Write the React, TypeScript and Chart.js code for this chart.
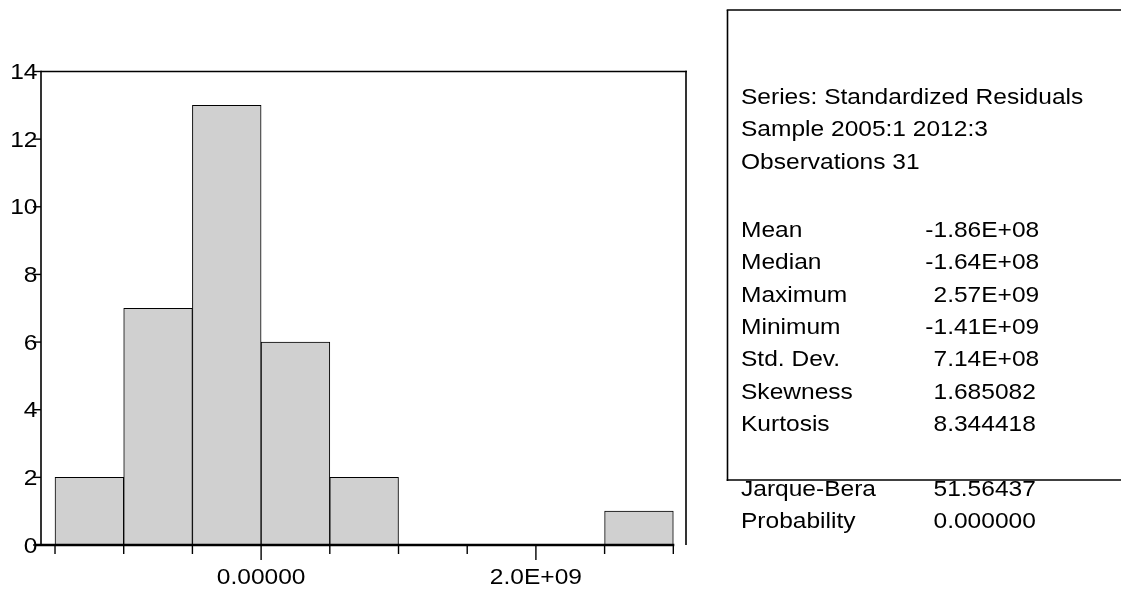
import React, { useEffect, useRef } from "react";
import { Chart, registerables } from "chart.js";

Chart.register(...registerables);

// ---- data ----
const binCenters = [-1.25e9, -0.75e9, -0.25e9, 0.25e9, 0.75e9, 1.25e9, 1.75e9, 2.25e9, 2.75e9];
const binCounts = [2, 7, 13, 6, 2, 0, 0, 0, 1];
const xTickValues = [-1.5e9, -1.0e9, -0.5e9, 0, 0.5e9, 1.0e9, 1.5e9, 2.0e9, 2.5e9, 3.0e9];
const xLabelValues = [0, 2.0e9];
const xLabelTexts = ["0.00000", "2.0E+09"];
const yTickValues = [0, 2, 4, 6, 8, 10, 12, 14];
const statsHeader = ["Series: Standardized Residuals", "Sample 2005:1 2012:3", "Observations 31"];
const statNames = ["Mean", "Median", "Maximum", "Minimum", "Std. Dev.", "Skewness", "Kurtosis"];
const statValues = ["-1.86E+08", "-1.64E+08", "2.57E+09", "-1.41E+09", "7.14E+08", "1.685082", "8.344418"];
const testNames = ["Jarque-Bera", "Probability"];
const testValues = ["51.56437", "0.000000"];

const FONT = '22px "Liberation Sans", Arial, sans-serif';
const SX = 1.115;

function drawText(ctx: CanvasRenderingContext2D, s: string, x: number, y: number, align: CanvasTextAlign) {
  ctx.save();
  ctx.translate(x, y);
  ctx.scale(SX, 1);
  ctx.textAlign = align;
  ctx.textBaseline = "alphabetic";
  ctx.fillText(s, 0, 0);
  ctx.restore();
}

function line(ctx: CanvasRenderingContext2D, x1: number, y1: number, x2: number, y2: number, w: number) {
  ctx.beginPath();
  ctx.lineWidth = w;
  ctx.moveTo(x1, y1);
  ctx.lineTo(x2, y2);
  ctx.stroke();
}

const decorPlugin = {
  id: "decor",
  afterDraw(chart: any) {
    const ctx: CanvasRenderingContext2D = chart.ctx;
    const xs = chart.scales.x;
    const ys = chart.scales.y;
    const area = chart.chartArea;
    ctx.save();
    ctx.strokeStyle = "#000";
    ctx.fillStyle = "#000";
    ctx.font = FONT;
    ctx.lineCap = "butt";

    const y0 = ys.getPixelForValue(0);
    const yTop = ys.getPixelForValue(14);

    // frame
    line(ctx, area.left, yTop, area.right + 1, yTop, 1.6);
    line(ctx, area.left, yTop - 0.8, area.left, y0, 1.6);
    line(ctx, area.right, yTop - 0.8, area.right, y0, 1.6);

    // y ticks + labels
    yTickValues.forEach((v) => {
      const py = ys.getPixelForValue(v);
      line(ctx, area.left - 8, py, area.left, py, 1.4);
      drawText(ctx, String(v), area.left - 3.5, py + 7.5, "right");
    });

    // x axis line
    const lastX = xs.getPixelForValue(xTickValues[xTickValues.length - 1]);
    line(ctx, area.left - 5, y0, lastX + 1, y0, 2.6);
    // x ticks
    xTickValues.forEach((v) => {
      const px = xs.getPixelForValue(v);
      const major = xLabelValues.indexOf(v) >= 0;
      line(ctx, px, y0, px, y0 + (major ? 15 : 9), 1.4);
    });
    xLabelValues.forEach((v, i) => {
      const px = xs.getPixelForValue(v);
      drawText(ctx, xLabelTexts[i], px, 584, "center");
    });

    // stats box
    const labelX = 741;
    const valueX = 933.5;
    const dashW = ctx.measureText("-").width * SX;
    statsHeader.forEach((s, i) => drawText(ctx, s, labelX, 104 + i * 32.3, "left"));
    const rowY = (k: number) => 236.7 + k * 32.4;
    statNames.forEach((s, i) => {
      drawText(ctx, s, labelX, rowY(i), "left");
      const v = statValues[i];
      drawText(ctx, v, v.startsWith("-") ? valueX - dashW : valueX, rowY(i), "left");
    });
    testNames.forEach((s, i) => {
      const yy = rowY(statNames.length + 1 + i);
      drawText(ctx, s, labelX, yy, "left");
      drawText(ctx, testValues[i], valueX, yy, "left");
    });
    line(ctx, 727.5, 10, 727.5, 481, 1.6);
    line(ctx, 726.7, 10, 1121, 10, 1.6);
    line(ctx, 726.7, 480, 1121, 480, 1.6);

    ctx.restore();
  },
};

export default function App() {
  const ref = useRef<HTMLCanvasElement | null>(null);
  useEffect(() => {
    document.body.style.margin = "0";
    const canvas = ref.current;
    if (!canvas) return;
    const chart = new Chart(canvas, {
      type: "bar",
      data: {
        datasets: [
          {
            data: binCenters.map((c, i) => ({ x: c, y: binCounts[i] })),
            backgroundColor: "#d0d0d0",
            borderColor: "#000",
            borderWidth: 1,
            barPercentage: 1,
            categoryPercentage: 1,
          },
        ],
      },
      options: {
        animation: false,
        responsive: false,
        events: [],
        layout: { padding: { left: 41, right: 435, top: 71.5, bottom: 45 } },
        plugins: { legend: { display: false }, tooltip: { enabled: false } },
        scales: {
          x: {
            type: "linear",
            display: false,
            offset: false,
            min: -1.602e9,
            max: 3.0924e9,
            afterBuildTicks: (scale: any) => {
              scale.ticks = xTickValues.map((v) => ({ value: v }));
            },
          },
          y: {
            type: "linear",
            display: false,
            min: 0,
            max: 14,
          },
        },
      } as any,
      plugins: [decorPlugin],
    });
    return () => chart.destroy();
  }, []);
  return (
    <div style={{ width: 1121, height: 590, background: "#fff" }}>
      <canvas ref={ref} width={1121} height={590} style={{ display: "block" }} />
    </div>
  );
}
